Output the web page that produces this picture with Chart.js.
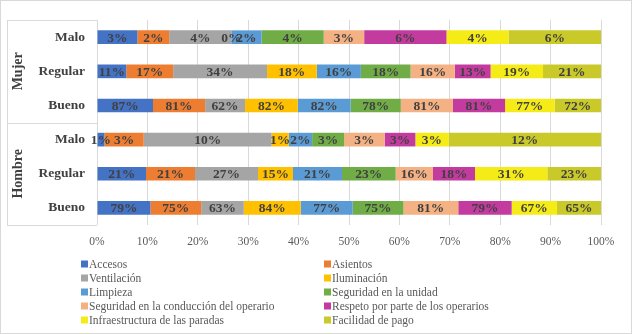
<!DOCTYPE html>
<html>
<head>
<meta charset="utf-8">
<script src="https://cdn.jsdelivr.net/npm/chart.js@4/dist/chart.umd.min.js"></script>
<style>
  html, body { margin: 0; padding: 0; background: #fff; }
  #wrap { width: 632px; height: 334px; }
</style>
</head>
<body>
<div id="wrap"><canvas id="chart" width="632" height="334"></canvas></div>
<script>
// rows top to bottom: Mujer (Malo, Regular, Bueno), Hombre (Malo, Regular, Bueno)
const categories = ['Malo', 'Regular', 'Bueno', 'Malo', 'Regular', 'Bueno'];
const groups = ['Mujer', 'Hombre'];
const xTicks = [0, 10, 20, 30, 40, 50, 60, 70, 80, 90, 100];

const seriesNames = [
  'Accesos', 'Asientos', 'Ventilación', 'Iluminación', 'Limpieza',
  'Seguridad en la unidad', 'Seguridad en la conducción del operario',
  'Respeto por parte de los operarios', 'Infraestructura de las paradas', 'Facilidad de pago'
];
const seriesColors = [
  '#4472C4', '#ED7D31', '#A5A5A5', '#FFC000', '#5B9BD5',
  '#70AD47', '#F4B183', '#C43BA0', '#F5EC17', '#C9C92A'
];

const accesos = [2.8, 10.6, 87, 0.6, 21, 79];
const asientos = [2.2, 17, 81, 3.2, 21, 75];
const ventilacion = [4.3, 34, 62, 10.4, 27, 63];
const iluminacion = [0, 18, 82, 1.4, 15, 84];
const limpieza = [2.1, 16, 82, 1.9, 21, 77];
const seguridadUnidad = [4.3, 18, 78, 2.6, 23, 75];
const seguridadConduccion = [2.8, 16, 81, 3.3, 16, 81];
const respeto = [5.7, 13, 81, 2.5, 18, 79];
const infraestructura = [4.3, 19, 77, 2.7, 31, 67];
const facilidadPago = [6.4, 21, 72, 12.4, 23, 65];

const seriesValues = [
  accesos, asientos, ventilacion, iluminacion, limpieza,
  seguridadUnidad, seguridadConduccion, respeto, infraestructura, facilidadPago
];

// 100% stacking: each row is scaled to its own total
const rowTotals = categories.map((_, i) => seriesValues.reduce((s, arr) => s + arr[i], 0));

const SERIF = '"Liberation Serif", "Times New Roman", serif';
const GRID = '#d9d9d9';

const datasets = seriesNames.map((name, k) => ({
  label: name,
  data: seriesValues[k].map((v, i) => (v / rowTotals[i]) * 100),
  raw: seriesValues[k],
  backgroundColor: seriesColors[k],
  borderWidth: 0,
  barPercentage: 0.4,
  categoryPercentage: 1
}));

const valueLabels = {
  id: 'valueLabels',
  afterDatasetsDraw(chart) {
    const ctx = chart.ctx;
    ctx.save();
    ctx.font = 'bold 13.5px ' + SERIF;
    ctx.fillStyle = '#404040';
    ctx.textAlign = 'center';
    ctx.textBaseline = 'middle';
    chart.data.datasets.forEach((ds, k) => {
      chart.getDatasetMeta(k).data.forEach((bar, i) => {
        const cx = (bar.x + bar.base) / 2;
        ctx.fillText(Math.round(ds.raw[i]) + '%', cx, bar.y + 1);
      });
    });
    ctx.restore();
  }
};

const frame = {
  id: 'frame',
  beforeDraw(chart) {
    const ctx = chart.ctx;
    ctx.save();
    ctx.fillStyle = '#fff';
    ctx.fillRect(0, 0, chart.width, chart.height);
    ctx.restore();
  },
  afterDraw(chart) {
    const { ctx, chartArea } = chart;
    const top = chartArea.top, bottom = chartArea.bottom, left = chartArea.left;
    const mid = (top + bottom) / 2;
    const boxLeft = 7;
    ctx.save();
    ctx.strokeStyle = GRID;
    ctx.lineWidth = 1;
    ctx.beginPath();
    [top, mid, bottom].forEach((y) => {
      const yy = Math.round(y) + 0.5;
      ctx.moveTo(boxLeft, yy);
      ctx.lineTo(left, yy);
    });
    ctx.moveTo(boxLeft + 0.5, top);
    ctx.lineTo(boxLeft + 0.5, bottom);
    ctx.stroke();
    // outer border
    ctx.strokeRect(0.5, 0.5, chart.width - 1, chart.height - 1);

    // group labels
    ctx.font = 'bold 14px ' + SERIF;
    ctx.fillStyle = '#404040';
    ctx.textAlign = 'center';
    ctx.textBaseline = 'middle';
    [[top, mid], [mid, bottom]].forEach(([a, b], g) => {
      ctx.save();
      ctx.translate(18, (a + b) / 2);
      ctx.rotate(-Math.PI / 2);
      ctx.fillText(groups[g], 0, 0);
      ctx.restore();
    });

    // legend, two columns
    ctx.font = '11.5px ' + SERIF;
    ctx.textAlign = 'left';
    const colX = [81, 324];
    const rowY0 = 264, rowStep = 14;
    seriesNames.forEach((name, k) => {
      const x = colX[k % 2];
      const y = rowY0 + Math.floor(k / 2) * rowStep;
      ctx.fillStyle = seriesColors[k];
      ctx.fillRect(x, y - 3.5, 7, 7);
      ctx.fillStyle = '#595959';
      ctx.fillText(name, x + 8, y + 0.5);
    });
    ctx.restore();
  }
};

new Chart(document.getElementById('chart').getContext('2d'), {
  type: 'bar',
  data: { labels: categories, datasets },
  options: {
    indexAxis: 'y',
    responsive: false,
    devicePixelRatio: 1,
    animation: false,
    layout: { padding: { top: 16, right: 31, left: 0, bottom: 0 } },
    plugins: { legend: { display: false }, tooltip: { enabled: false } },
    scales: {
      x: {
        stacked: true,
        min: 0,
        max: 100,
        afterBuildTicks: (scale) => { scale.ticks = xTicks.map((v) => ({ value: v })); },
        afterFit: (scale) => { scale.height = 109; },
        grid: { color: GRID, drawTicks: false },
        border: { display: false },
        ticks: {
          padding: 10,
          color: '#595959',
          font: { family: SERIF, size: 11.5 },
          callback: (v) => v + '%'
        }
      },
      y: {
        stacked: true,
        afterFit: (scale) => { scale.width = 97; },
        grid: { display: false, drawTicks: false },
        border: { display: false },
        ticks: {
          padding: 12,
          color: '#404040',
          font: { family: SERIF, size: 13.5, weight: 'bold' }
        }
      }
    }
  },
  plugins: [frame, valueLabels]
});
</script>
</body>
</html>
